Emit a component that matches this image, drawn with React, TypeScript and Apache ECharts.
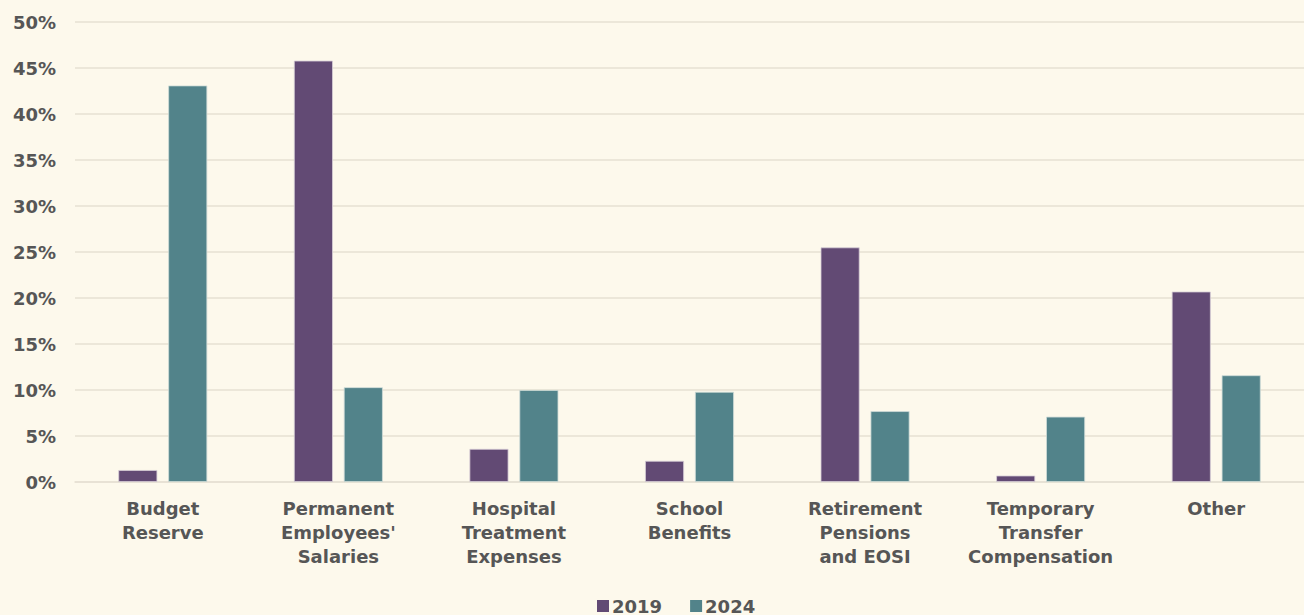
import React, { useEffect, useRef } from "react";
import * as echarts from "echarts";

const categories = [
  "Budget\nReserve",
  "Permanent\nEmployees'\nSalaries",
  "Hospital\nTreatment\nExpenses",
  "School\nBenefits",
  "Retirement\nPensions\nand EOSI",
  "Temporary\nTransfer\nCompensation",
  "Other",
];
const values2019 = [1.3, 45.8, 3.6, 2.3, 25.5, 0.7, 20.7];
const values2024 = [43.1, 10.3, 10.0, 9.8, 7.7, 7.1, 11.6];
const seriesNames = ["2019", "2024"];

const FONT = "'DejaVu Sans', 'Open Sans', sans-serif";
const TEXT = "#565656";

export default function App() {
  const ref = useRef<HTMLDivElement>(null);
  useEffect(() => {
    document.body.style.margin = "0";
    if (!ref.current) return;
    const chart = echarts.init(ref.current, null, { renderer: "svg" });
    chart.setOption({
      animation: false,
      backgroundColor: "#fdf9ec",
      textStyle: { fontFamily: FONT },
      grid: { left: 75, right: 0, top: 22, bottom: 133 },
      legend: {
        bottom: -5,
        left: 592,
        itemWidth: 12,
        itemHeight: 12,
        itemGap: 28,
        icon: "rect",
        itemStyle: { borderWidth: 0 },
        textStyle: { color: TEXT, fontSize: 18, fontWeight: 700, fontFamily: FONT, padding: [0, 0, 0, -2] },
        data: seriesNames,
      },
      xAxis: {
        type: "category",
        data: categories,
        axisLine: { lineStyle: { color: "#e6e1d3", width: 1.5 } },
        axisTick: { show: false },
        axisLabel: {
          color: TEXT,
          fontSize: 18,
          fontWeight: 700,
          lineHeight: 24,
          margin: 14,
          interval: 0,
          fontFamily: FONT,
        },
      },
      yAxis: {
        type: "value",
        min: 0,
        max: 50,
        interval: 5,
        axisLine: { show: false },
        axisTick: { show: false },
        splitLine: { lineStyle: { color: "#e6e1d3", width: 1.5 } },
        axisLabel: {
          color: TEXT,
          fontSize: 18,
          fontWeight: 700,
          margin: 19,
          fontFamily: FONT,
          formatter: "{value}%",
        },
      },
      series: [
        {
          name: seriesNames[0],
          type: "bar",
          data: values2019,
          barWidth: 39,
          barGap: "28%",
          itemStyle: { color: "#624a74", borderColor: "#d8cfd8", borderWidth: 0.8 },
        },
        {
          name: seriesNames[1],
          type: "bar",
          data: values2024,
          barWidth: 39,
          itemStyle: { color: "#52838a", borderColor: "#cfdcd8", borderWidth: 0.8 },
        },
      ],
    });
    return () => chart.dispose();
  }, []);
  return <div ref={ref} style={{ width: 1304, height: 615 }} />;
}
